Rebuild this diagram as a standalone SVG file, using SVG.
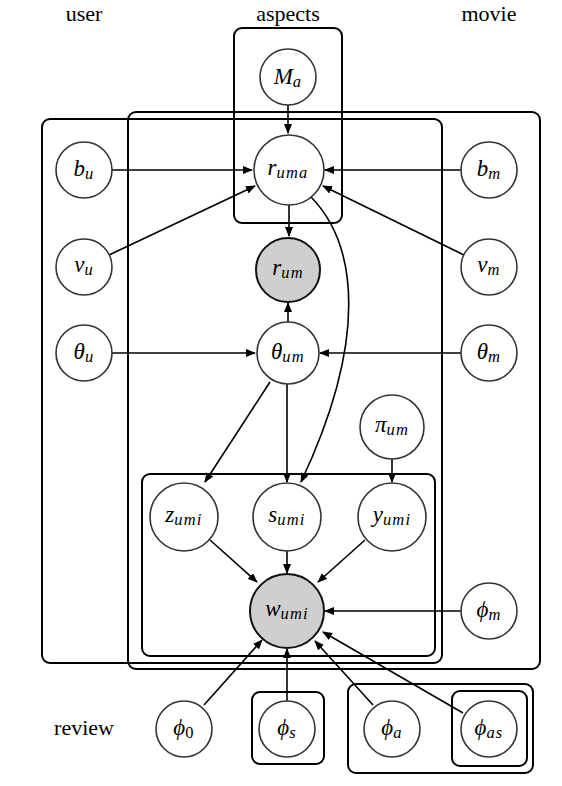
<svg xmlns="http://www.w3.org/2000/svg" width="562" height="786" viewBox="0 0 562 786">
<style>
.lbl{font-size:22px;fill:#000;text-anchor:middle}
.m{font-style:italic;font-size:23px;fill:#000;text-anchor:middle}
.s{font-size:16.5px;letter-spacing:1.2px}
.n{fill:#fff;stroke:#333;stroke-width:1.6}
.o{fill:#cfcfcf;stroke:#111;stroke-width:2}
.plate{fill:none;stroke:#000;stroke-width:2}
.e{fill:none;stroke:#000;stroke-width:1.6;marker-end:url(#ah)}
</style>
<defs>
<marker id="ah" markerUnits="userSpaceOnUse" markerWidth="10" markerHeight="8" refX="9" refY="4" orient="auto">
<path d="M0,0 L10,4 L0,8 z" fill="#000"/>
</marker>
</defs>
<rect width="562" height="786" fill="#fff"/>
<g font-family="'Liberation Serif', 'Times New Roman', serif">
<g id="labels">
<text class="lbl" x="84" y="21">user</text>
<text class="lbl" x="288" y="21">aspects</text>
<text class="lbl" x="489" y="21">movie</text>
<text class="lbl" x="84" y="735">review</text>
</g>
<g id="plates">
<rect class="plate" x="128" y="112" width="412" height="557" rx="8"/>
<rect class="plate" x="42" y="119" width="400" height="544" rx="8"/>
<rect class="plate" x="234" y="28" width="108" height="195" rx="8"/>
<rect class="plate" x="142" y="474" width="293" height="182" rx="8"/>
<rect class="plate" x="252" y="692" width="72" height="72" rx="8"/>
<rect class="plate" x="348" y="684" width="185" height="89" rx="8"/>
<rect class="plate" x="452" y="691" width="75" height="75" rx="8"/>
</g>
<g id="connectors">
<path class="e" d="M288,105 L288,133"/>
<path class="e" d="M112,170 L252,170"/>
<path class="e" d="M461,170 L325,170"/>
<path class="e" d="M109,255 L255,186"/>
<path class="e" d="M464,255 L323,186"/>
<path class="e" d="M289,205 L289,236"/>
<path class="e" d="M288,322 L288,303"/>
<path class="e" d="M112,353 L255,353"/>
<path class="e" d="M461,353 L320,353"/>
<path class="e" d="M270,382 L205,482"/>
<path class="e" d="M287,384 L287,482"/>
<path class="e" d="M311,197 C358,245 368,340 301,482"/>
<path class="e" d="M392,459 L392,482"/>
<path class="e" d="M210,540 L257,582"/>
<path class="e" d="M287,551 L287,573"/>
<path class="e" d="M365,540 L318,582"/>
<path class="e" d="M461,611 L325,611"/>
<path class="e" d="M204,705 L262,640"/>
<path class="e" d="M287,701 L287,649"/>
<path class="e" d="M373,705 L315,641"/>
<path class="e" d="M463,713 L323,632"/>
</g>
<g id="Ma"><circle class="n" cx="288" cy="77" r="28"/><text class="m" x="288" y="84">M<tspan class="s" dy="3">a</tspan></text></g>
<g id="ruma"><circle class="n" cx="289" cy="170" r="35"/><text class="m" x="288" y="175">r<tspan class="s" dy="3">uma</tspan></text></g>
<g id="bu"><circle class="n" cx="84" cy="170" r="28"/><text class="m" x="84" y="176">b<tspan class="s" dy="3">u</tspan></text></g>
<g id="bm"><circle class="n" cx="489" cy="170" r="28"/><text class="m" x="489" y="176">b<tspan class="s" dy="3">m</tspan></text></g>
<g id="vu"><circle class="n" cx="84" cy="267" r="28"/><text class="m" x="84" y="272">v<tspan class="s" dy="3">u</tspan></text></g>
<g id="vm"><circle class="n" cx="489" cy="267" r="28"/><text class="m" x="489" y="272">v<tspan class="s" dy="3">m</tspan></text></g>
<g id="rum"><circle class="o" cx="288" cy="270" r="32"/><text class="m" x="288" y="275">r<tspan class="s" dy="3">um</tspan></text></g>
<g id="thu"><circle class="n" cx="84" cy="353" r="28"/><text class="m" x="84" y="359">θ<tspan class="s" dy="3">u</tspan></text></g>
<g id="thum"><circle class="n" cx="288" cy="353" r="31"/><text class="m" x="288" y="359">θ<tspan class="s" dy="3">um</tspan></text></g>
<g id="thm"><circle class="n" cx="489" cy="353" r="28"/><text class="m" x="489" y="359">θ<tspan class="s" dy="3">m</tspan></text></g>
<g id="pium"><circle class="n" cx="392" cy="427" r="32"/><text class="m" x="392" y="432">π<tspan class="s" dy="3">um</tspan></text></g>
<g id="zumi"><circle class="n" cx="184" cy="517" r="34"/><text class="m" x="184" y="522">z<tspan class="s" dy="3">umi</tspan></text></g>
<g id="sumi"><circle class="n" cx="287" cy="517" r="34"/><text class="m" x="287" y="522">s<tspan class="s" dy="3">umi</tspan></text></g>
<g id="yumi"><circle class="n" cx="392" cy="517" r="34"/><text class="m" x="392" y="522">y<tspan class="s" dy="3">umi</tspan></text></g>
<g id="wumi"><circle class="o" cx="287" cy="611" r="37"/><text class="m" x="287" y="616">w<tspan class="s" dy="3">umi</tspan></text></g>
<g id="phim"><circle class="n" cx="489" cy="611" r="28"/><text class="m" x="489" y="617">ϕ<tspan class="s" dy="3">m</tspan></text></g>
<g id="phi0"><circle class="n" cx="184" cy="729" r="28"/><text class="m" x="184" y="735">ϕ<tspan class="s" dy="3" font-style="normal">0</tspan></text></g>
<g id="phis"><circle class="n" cx="287" cy="729" r="28"/><text class="m" x="287" y="735">ϕ<tspan class="s" dy="3">s</tspan></text></g>
<g id="phia"><circle class="n" cx="392" cy="729" r="28"/><text class="m" x="392" y="735">ϕ<tspan class="s" dy="3">a</tspan></text></g>
<g id="phias"><circle class="n" cx="489" cy="729" r="28"/><text class="m" x="489" y="735">ϕ<tspan class="s" dy="3">as</tspan></text></g>
</g>
</svg>
